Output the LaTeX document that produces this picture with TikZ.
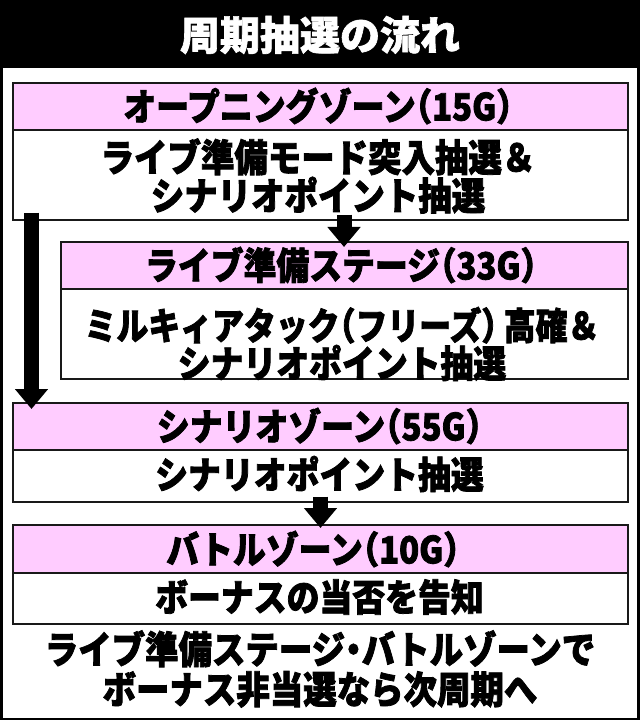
\documentclass[tikz,border=0pt]{standalone}
\usepackage{fontspec}
\setmainfont{Noto Sans CJK JP}[BoldFeatures={FakeBold=1.6}]
\newfontfamily\cond{Noto Sans CJK JP}[RawFeature=+halt, FakeStretch=0.88, BoldFeatures={FakeBold=2}]
\usetikzlibrary{arrows.meta}
\definecolor{pinkhd}{RGB}{255,204,255}
\definecolor{edge}{RGB}{25,25,25}
\tikzset{
  x=0.75pt, y=-0.75pt,
  panel/.style={draw=edge, line width=1.2pt, inner sep=0pt, anchor=north west},
  hdr/.style={panel, fill=pinkhd},
  body/.style={panel, fill=white},
  txt/.style={inner sep=0pt, align=center, font=\cond\bfseries\fontsize{28pt}{29pt}\selectfont},
  bigarrow/.style={line width=11.25pt, -{Triangle[length=15pt,width=24pt]}},
}
\begin{document}
\begin{tikzpicture}
% frame
\fill[black] (0,0) rectangle (640,720);
\fill[white] (3,68) rectangle (637,718);
\node[text=white, inner sep=0pt, font=\bfseries\fontsize{30pt}{32pt}\selectfont] (title) at (320,35) {周期抽選の流れ};

% box 1
\node[hdr, minimum width=615*0.75pt, minimum height=47*0.75pt] (h1) at (12,82) {};
\node[body, minimum width=615*0.75pt, minimum height=90*0.75pt] (b1) at (12,129) {};
% box 2
\node[hdr, minimum width=567*0.75pt, minimum height=47*0.75pt] (h2) at (60,241) {};
\node[body, minimum width=567*0.75pt, minimum height=90*0.75pt] (b2) at (60,288) {};
% box 3
\node[hdr, minimum width=615*0.75pt, minimum height=47*0.75pt] (h3) at (12,402) {};
\node[body, minimum width=615*0.75pt, minimum height=52*0.75pt] (b3) at (12,449) {};
% box 4
\node[hdr, minimum width=615*0.75pt, minimum height=48*0.75pt] (h4) at (12,524) {};
\node[body, minimum width=615*0.75pt, minimum height=51*0.75pt] (b4) at (12,572) {};

% texts
\node[txt] (t1) at (318,106) {オープニングゾーン（15G）};
\node[txt, font=\cond\bfseries\fontsize{28.5pt}{27pt}\selectfont] (u1) at (318,176) {ライブ準備モード突入抽選＆\\シナリオポイント抽選};
\node[txt] (t2) at (341,265) {ライブ準備ステージ（33G）};
\node[txt, font=\cond\bfseries\fontsize{28pt}{25.5pt}\selectfont] (u2) at (342,344) {\scalebox{0.97}[1]{ミルキィアタック（フリーズ）\kern5pt 高確＆}\\シナリオポイント抽選};
\node[txt] (t3) at (319.5,426) {シナリオゾーン（55G）};
\node[txt] (u3) at (319.5,474) {シナリオポイント抽選};
\node[txt] (t4) at (313,549) {バトルゾーン（10G）};
\node[txt] (u4) at (319.5,597) {ボーナスの当否を告知};
\node[txt, font=\cond\bfseries\fontsize{28.5pt}{30pt}\selectfont] (note) at (320,669) {ライブ準備ステージ・バトルゾーンで\\ボーナス非当選なら次周期へ};

% arrows
\coordinate (xl) at (31.5,0);
\coordinate (xm) at (344,0);
\coordinate (xb) at (320.5,0);
\draw[bigarrow] ([yshift=6pt]b1.south -| xl) -- ([yshift=-5.25pt]h3.north -| xl);
\draw[bigarrow] ([yshift=4.5pt]b1.south -| xm) -- ([yshift=-4.5pt]h2.north -| xm);
\draw[bigarrow] ([yshift=4.5pt]b3.south -| xb) -- ([yshift=-3pt]h4.north -| xb);
\end{tikzpicture}
\end{document}
